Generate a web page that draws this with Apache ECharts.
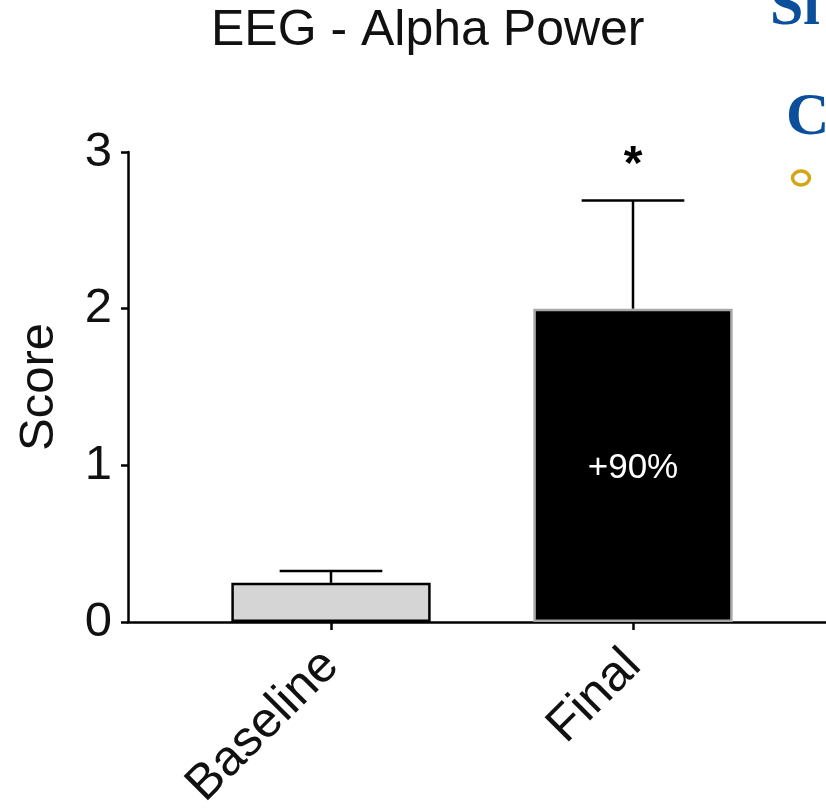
<!DOCTYPE html>
<html><head><meta charset="utf-8">
<script src="https://cdn.jsdelivr.net/npm/echarts@6/dist/echarts.min.js"></script>
<style>html,body{margin:0;padding:0;background:#fff}#c{width:826px;height:810px}</style>
</head><body><div id="c"></div><script>
const categories = ['Baseline', 'Final'];
const means = [0.25, 2.0];
const sems = [0.075, 0.69];
const barLabels = ['', '+90%'];
const sigMarks = ['', '*'];
const yTicks = [0, 1, 2, 3];

const FONT = "Arial, 'Liberation Sans', Helvetica, sans-serif";
const SERIF = "'Times New Roman', 'Liberation Serif', serif";
const barColors = ['#d5d5d5', '#000000'];
const barBorders = ['#000000', '#a8a8a8'];

const chart = echarts.init(document.getElementById('c'), null, {renderer: 'canvas'});
chart.setOption({
  backgroundColor: '#ffffff',
  animation: false,
  title: {
    text: 'EEG - Alpha Power', left: 211, top: 6, padding: 0,
    textStyle: {fontSize: 50, fontWeight: 'normal', color: '#111', fontFamily: FONT}
  },
  graphic: [
    {type: 'text', left: 770, top: -22, style: {text: 'Sl', font: "bold 60px " + SERIF, fill: '#0b4f9c'}},
    {type: 'text', left: 786, top: 88, style: {text: 'C', font: "bold 60px " + SERIF, fill: '#0b4f9c'}},
    {type: 'ellipse', shape: {cx: 801, cy: 178, rx: 8.5, ry: 7}, style: {fill: 'none', stroke: '#d6a516', lineWidth: 3.5}}
  ],
  grid: [
    {left: 128, right: 0, top: 152, bottom: 188, containLabel: false, outerBoundsMode: 'none'},
    {left: 180, width: 604, top: 152, bottom: 188, containLabel: false, outerBoundsMode: 'none'}
  ],
  xAxis: [
    {type: 'value', gridIndex: 0, min: 0, max: 1, axisLine: {show: true, lineStyle: {color: '#000', width: 2.5}},
     axisTick: {show: false}, axisLabel: {show: false}, splitLine: {show: false}},
    {type: 'category', gridIndex: 1, data: categories,
     axisLine: {show: false},
     axisTick: {show: true, alignWithLabel: true, length: 8, lineStyle: {color: '#000', width: 2.5}},
     axisLabel: {rotate: 45, fontSize: 50, margin: 36, color: '#111', fontFamily: FONT}}
  ],
  yAxis: [
    {type: 'value', gridIndex: 0, min: yTicks[0], max: yTicks[yTicks.length - 1], interval: 1,
     axisLine: {show: true, lineStyle: {color: '#000', width: 2.5}},
     axisTick: {show: true, length: 7, lineStyle: {color: '#000', width: 2.5}},
     axisLabel: {fontSize: 49, margin: 16, color: '#111', fontFamily: FONT},
     splitLine: {show: false},
     name: 'Score', nameLocation: 'middle', nameRotate: 90, nameGap: 64,
     nameTextStyle: {fontSize: 49, color: '#111', fontFamily: FONT}},
    {type: 'value', gridIndex: 1, min: yTicks[0], max: yTicks[yTicks.length - 1], show: false}
  ],
  series: [
    {
      type: 'bar', xAxisIndex: 1, yAxisIndex: 1, barWidth: '66%',
      data: means.map((v, i) => ({
        value: v,
        itemStyle: {color: barColors[i], borderColor: barBorders[i], borderWidth: 2.5},
        label: {show: !!barLabels[i], formatter: barLabels[i], position: 'inside', offset: [0, 3],
                color: '#fff', fontSize: 35, fontFamily: FONT}
      }))
    },
    {
      type: 'custom', xAxisIndex: 1, yAxisIndex: 1, z: 5,
      encode: {x: 0, y: [1, 2]},
      data: means.map((m, i) => [i, m, m + sems[i]]),
      renderItem: function (params, api) {
        const i = api.value(0);
        const base = api.coord([i, api.value(1)]);
        const top = api.coord([i, api.value(2)]);
        const half = api.size([1, 0])[0] * 0.17;
        const children = [
          {type: 'line', shape: {x1: base[0], y1: base[1], x2: top[0], y2: top[1]}, style: {stroke: '#000', lineWidth: 2.5}},
          {type: 'line', shape: {x1: top[0] - half, y1: top[1], x2: top[0] + half, y2: top[1]}, style: {stroke: '#000', lineWidth: 2.5}}
        ];
        const mark = sigMarks[params.dataIndex];
        if (mark) {
          children.push({type: 'text', style: {text: mark, x: top[0], y: top[1] - 35, align: 'center', verticalAlign: 'middle',
            font: 'bold 48px ' + FONT, fill: '#000'}});
        }
        return {type: 'group', children: children};
      }
    }
  ]
});
</script></body></html>
